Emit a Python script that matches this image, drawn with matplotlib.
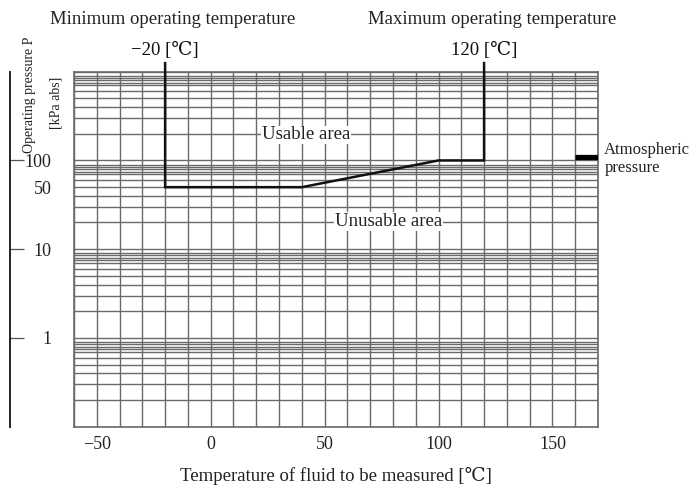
import matplotlib
matplotlib.use("Agg")
import matplotlib.pyplot as plt
from matplotlib.transforms import blended_transform_factory
from matplotlib.ticker import NullLocator, FixedLocator

plt.rcParams['font.family'] = ['Liberation Serif', 'DejaVu Serif', 'Noto Sans CJK JP']

# ---- data ----
boundary_temp = [-20, -20, 40, 100, 120, 120]          # degC
boundary_press = [1250, 50, 50, 100, 100, 1250]         # kPa abs
atm_temp = [160, 170]
atm_press = [110, 110]
x_tick_values = [-50, 0, 50, 100, 150]
x_tick_labels = ["\u221250", "0", "50", "100", "150"]
y_label_values = [1, 10, 50, 100]
y_label_texts = ["1", "10", "50", "100"]
outer_tick_values = [1, 10, 100]
decades = [0.1, 1, 10, 100]
grid_mult = [1, 2, 3, 4, 5, 6, 7, 7.5, 8, 8.5, 9]

W, H = 690, 486
fig = plt.figure(figsize=(W / 100, H / 100), dpi=100)
L, R, T, B = 74, 598, 71.7, 426.7
ax = fig.add_axes([L / W, 1 - B / H, (R - L) / W, (B - T) / H])
ax.set_yscale('log')
ax.set_xlim(-60, 170)
ax.set_ylim(0.1, 1000)

gcol = '#6a6a6a'
FS = 13.5
# grid
xgrid = list(range(-60, 171, 10))
ygrid = [d * m for d in decades for m in grid_mult] + [1000]
ax.xaxis.set_major_locator(FixedLocator(xgrid))
ax.set_xticklabels([x_tick_labels[x_tick_values.index(v)] if v in x_tick_values else "" for v in xgrid])
ax.yaxis.set_major_locator(FixedLocator(ygrid))
ax.yaxis.set_minor_locator(NullLocator())
ax.set_yticklabels([y_label_texts[y_label_values.index(v)] if v in y_label_values else "" for v in ygrid])
ax.grid(True, color=gcol, lw=1.0)
ax.tick_params(axis='x', length=0, pad=7, labelsize=13, labelcolor='#222')
ax.tick_params(axis='y', length=0, pad=16, labelsize=13, labelcolor='#222')
for s in ax.spines.values():
    s.set_color(gcol)
    s.set_linewidth(1.2)

# boundary
ax.plot(boundary_temp, boundary_press, color='#111', lw=1.8, clip_on=False, zorder=5,
        solid_joinstyle='miter')
ax.plot(atm_temp, atm_press, color='#000', lw=3.8, solid_capstyle='butt', zorder=5)

# area labels
box = dict(facecolor='white', edgecolor='none', pad=0.5)
ax.text(42, 194, "Usable area", ha='center', va='center', fontsize=FS, color='#222', bbox=box, zorder=4)
ax.text(78, 20.5, "Unusable area", ha='center', va='center', fontsize=FS, color='#222', bbox=box, zorder=4)

# atmospheric
ax.text(1.012, 103, "Atmospheric\npressure", transform=blended_transform_factory(ax.transAxes, ax.transData),
        ha='left', va='center', fontsize=12, color='#222', linespacing=1.15)

# top labels
fig.text(173 / W, 1 - 20 / H, "Minimum operating temperature", ha='center', va='center', fontsize=FS, color='#222')
fig.text(492 / W, 1 - 20 / H, "Maximum operating temperature", ha='center', va='center', fontsize=FS, color='#222')
tb = blended_transform_factory(ax.transData, fig.transFigure)
ax.text(-20, 1 - 50 / H, "\u221220 [\u2103]", transform=tb, ha='center', va='center', fontsize=FS, color='#111')
ax.text(120, 1 - 50 / H, "120 [\u2103]", transform=tb, ha='center', va='center', fontsize=FS, color='#111')

# x label
fig.text((L + R) / 2 / W, 1 - 476 / H, "Temperature of fluid to be measured [\u2103]",
         ha='center', va='center', fontsize=FS, color='#222')

# outer pressure axis
ax2 = fig.add_axes([9.5 / W, 1 - B / H, 0.0005, (B - T) / H])
ax2.set_yscale('log')
ax2.set_ylim(0.1, 1000)
ax2.set_facecolor('none')
for k in ['top', 'right', 'bottom']:
    ax2.spines[k].set_visible(False)
ax2.spines['left'].set_color('#111')
ax2.spines['left'].set_linewidth(1.3)
ax2.set_xticks([])
ax2.yaxis.set_major_locator(FixedLocator(outer_tick_values))
ax2.yaxis.set_minor_locator(NullLocator())
ax2.tick_params(axis='y', direction='in', length=10, width=0.9, color='#555', labelleft=False)

fig.text(29 / W, 1 - 95 / H, "Operating pressure P", rotation=90, ha='center', va='center', fontsize=10, color='#222')
fig.text(56 / W, 1 - 103 / H, "[kPa abs]", rotation=90, ha='center', va='center', fontsize=10, color='#222')

fig.savefig("out.png", dpi=100)
